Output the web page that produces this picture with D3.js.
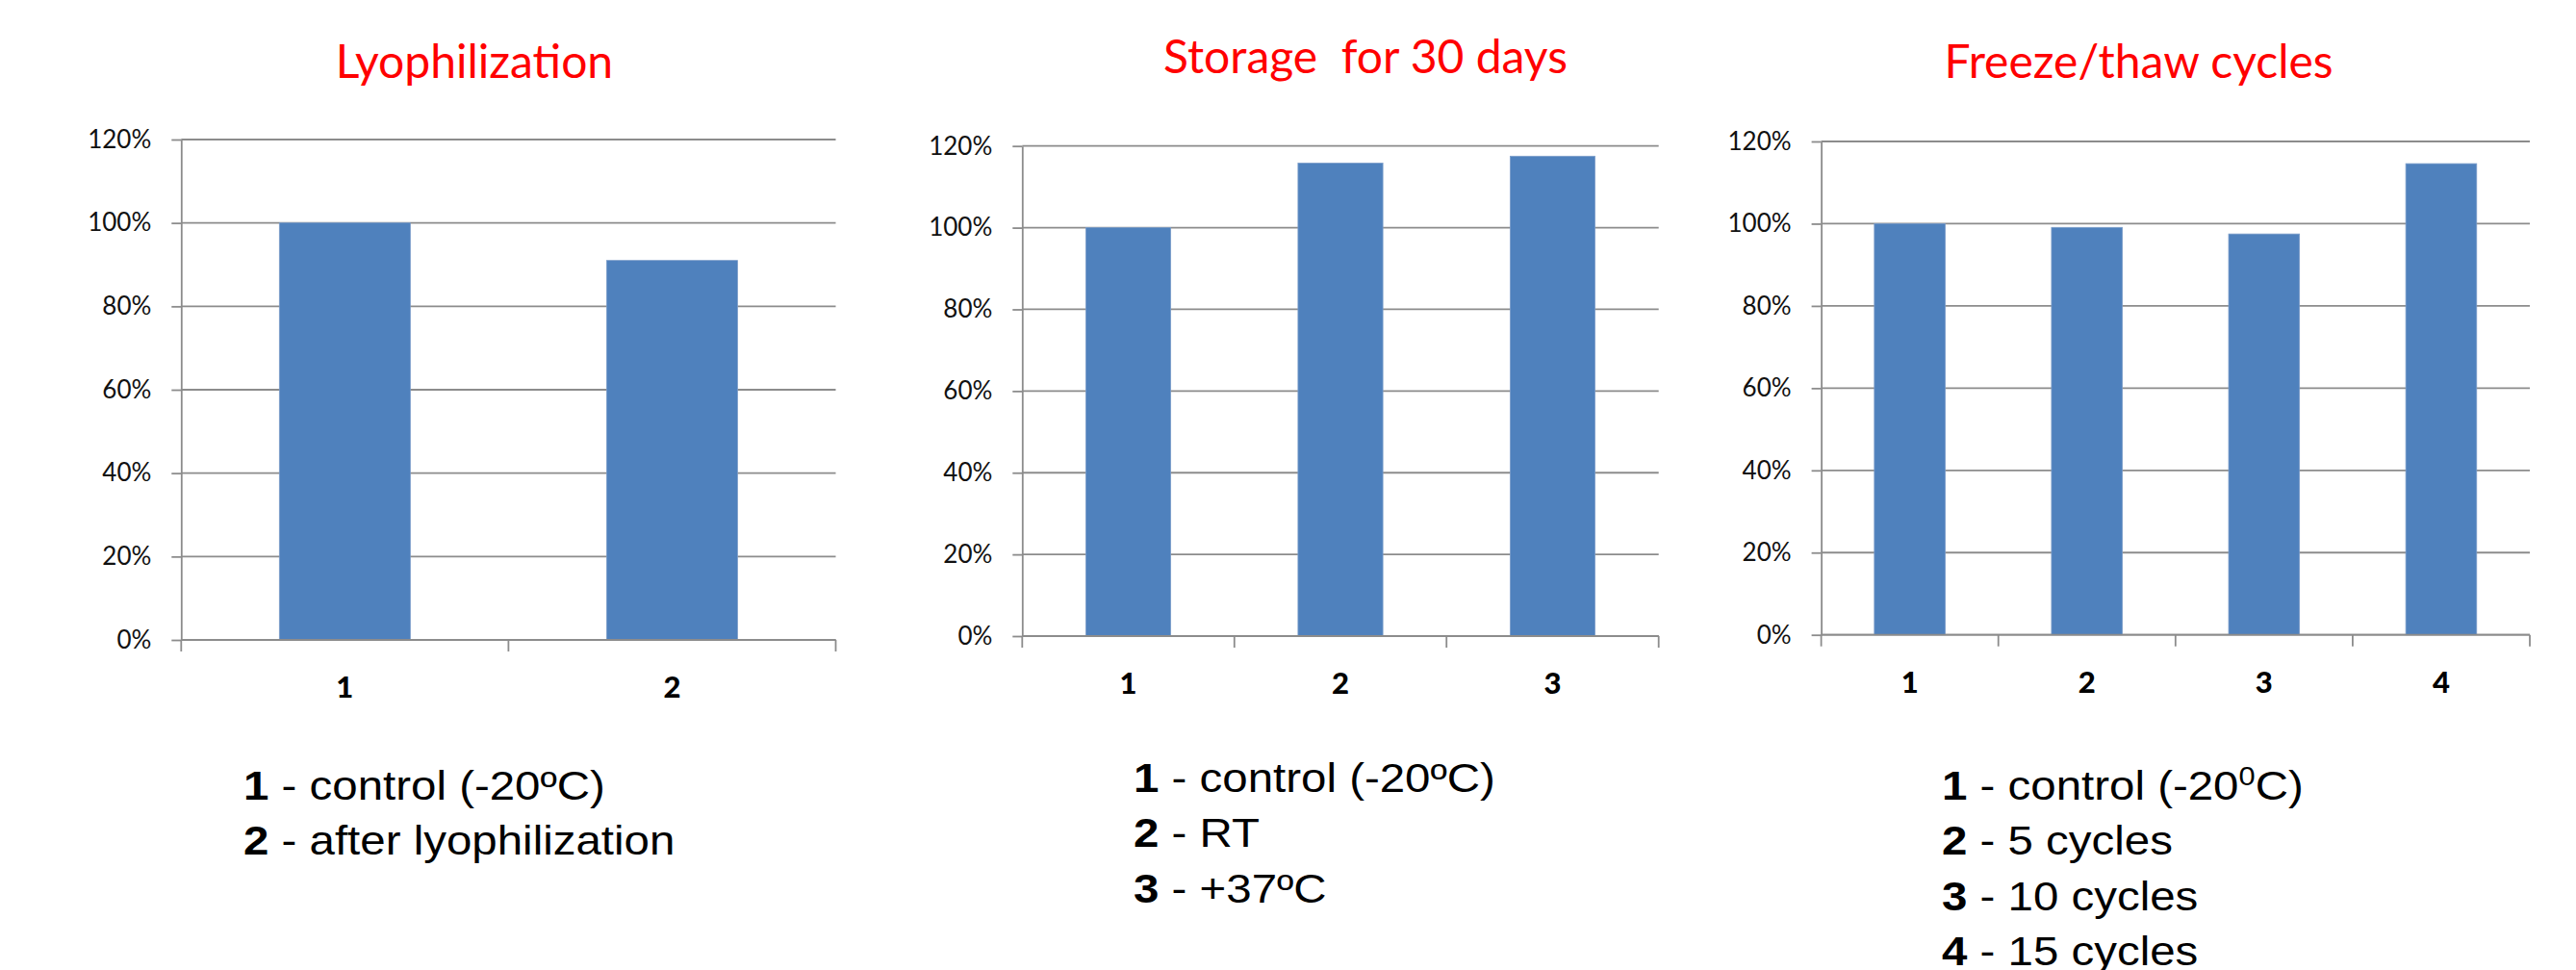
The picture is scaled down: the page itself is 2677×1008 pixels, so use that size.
<!DOCTYPE html>
<html>
<head>
<meta charset="utf-8">
<script src="https://cdn.jsdelivr.net/npm/d3@7/dist/d3.min.js"></script>
<style>
  html, body { margin: 0; padding: 0; background: #fff; }
  svg { display: block; }
</style>
</head>
<body>
<svg id="chart" width="2677" height="1008"></svg>
<script>
// ---------- DATA ----------
const titles = ["Lyophilization", "Storage  for 30 days", "Freeze/thaw cycles"];

const categories1 = ["1", "2"];
const values1 = [1.00, 0.91];

const categories2 = ["1", "2", "3"];
const values2 = [1.00, 1.158, 1.175];

const categories3 = ["1", "2", "3", "4"];
const values3 = [1.00, 0.991, 0.975, 1.146];

const yTickValues = [0, 0.2, 0.4, 0.6, 0.8, 1.0, 1.2];
const yMax = 1.2;

// legend lines: [bold number, rest, optional superscript, after-superscript]
const legend1 = [["1", " - control (-20ºC)"], ["2", " - after lyophilization"]];
const legend2 = [["1", " - control (-20ºC)"], ["2", " - RT"], ["3", " - +37ºC"]];
const legend3 = [["1", " - control (-20", "0", "C)"], ["2", " - 5 cycles"], ["3", " - 10 cycles"], ["4", " - 15 cycles"]];

// ---------- LAYOUT ----------
const panels = [
  { cats: categories1, vals: values1, title: titles[0], legend: legend1,
    x0: 188.3, x1: 868.5, yTop: 145, y0: 665, titleX: 493, titleY: 81, legX: 253, legY: 831 },
  { cats: categories2, vals: values2, title: titles[1], legend: legend2,
    x0: 1062.3, x1: 1723.7, yTop: 151.7, y0: 661, titleX: 1419, titleY: 76, legX: 1178, legY: 823 },
  { cats: categories3, vals: values3, title: titles[2], legend: legend3,
    x0: 1892.6, x1: 2629, yTop: 147, y0: 659.7, titleX: 2222.6, titleY: 81, legX: 2018, legY: 831 }
];

const barColor = "#4F81BD";
const gridColor = "#8C8C8C";
const legendLineH = 57.3;
const legendFont = 42;
const legendStretch = 1.13;

const svg = d3.select("#chart");

panels.forEach(p => {
  const w = p.x1 - p.x0, h = p.y0 - p.yTop;
  const g = svg.append("g").attr("transform", `translate(${p.x0},${p.yTop})`);

  const x = d3.scaleBand().domain(p.cats).range([0, w]).paddingInner(0.6).paddingOuter(0.3);
  const y = d3.scaleLinear().domain([0, yMax]).range([h, 0]);

  // gridlines
  g.append("g").selectAll("line").data(yTickValues).join("line")
    .attr("x1", 0).attr("x2", w)
    .attr("y1", d => y(d)).attr("y2", d => y(d))
    .attr("stroke", gridColor).attr("stroke-width", 1.8);

  // bars
  g.append("g").selectAll("rect").data(p.vals).join("rect")
    .attr("x", (d, i) => x(p.cats[i]))
    .attr("width", x.bandwidth())
    .attr("y", d => y(d))
    .attr("height", d => y(0) - y(d))
    .attr("fill", barColor)
    .attr("stroke", "#7A9CC9").attr("stroke-width", 0.8);

  // y axis
  const yAxis = d3.axisLeft(y).tickValues(yTickValues).tickFormat(d3.format(".0%"))
    .tickSizeInner(10).tickSizeOuter(0).tickPadding(21);
  const ya = g.append("g").call(yAxis);
  ya.select(".domain").attr("stroke", gridColor).attr("stroke-width", 1.8);
  ya.selectAll(".tick line").attr("stroke", gridColor).attr("stroke-width", 1.8);
  ya.selectAll("text").attr("font-family", "Lato, 'Open Sans', sans-serif")
    .attr("font-size", 26).attr("fill", "#111");

  // x axis baseline & boundary ticks
  const xa = d3.axisBottom(x).tickSize(0).tickPadding(0);
  const xg = g.append("g").attr("transform", `translate(0,${h})`).call(xa);
  xg.select(".domain").remove();
  xg.selectAll("text").attr("font-family", "Lato, 'Open Sans', sans-serif")
    .attr("font-weight", "900").attr("font-size", 31).attr("fill", "#000")
    .attr("y", 60).attr("dy", 0);
  const bounds = d3.range(p.cats.length + 1).map(i => i * x.step());
  g.append("line").attr("x1", 0).attr("x2", w).attr("y1", h).attr("y2", h)
    .attr("stroke", gridColor).attr("stroke-width", 1.8);
  g.append("g").selectAll("line").data(bounds).join("line")
    .attr("x1", d => d).attr("x2", d => d)
    .attr("y1", h).attr("y2", h + 12)
    .attr("stroke", gridColor).attr("stroke-width", 1.8);

  // title
  svg.append("text").attr("x", p.titleX).attr("y", p.titleY)
    .attr("text-anchor", "middle").attr("fill", "#FF0000")
    .attr("font-family", "Lato, 'Open Sans', sans-serif").attr("font-size", 48)
    .style("white-space", "pre")
    .text(p.title);

  // legend
  const lg = svg.append("g").attr("transform", `translate(${p.legX},${p.legY}) scale(${legendStretch},1)`);
  p.legend.forEach((line, i) => {
    const t = lg.append("text").attr("x", 0).attr("y", i * legendLineH)
      .attr("font-family", "'Liberation Sans', Arial, sans-serif").attr("font-size", legendFont)
      .attr("fill", "#000").style("white-space", "pre");
    t.append("tspan").attr("font-weight", "bold").text(line[0]);
    t.append("tspan").text(line[1]);
    if (line.length > 2) {
      t.append("tspan").attr("font-size", legendFont * 0.65).attr("dy", -15).text(line[2]);
      t.append("tspan").attr("dy", 15).text(line[3]);
    }
  });
});
</script>
</body>
</html>
